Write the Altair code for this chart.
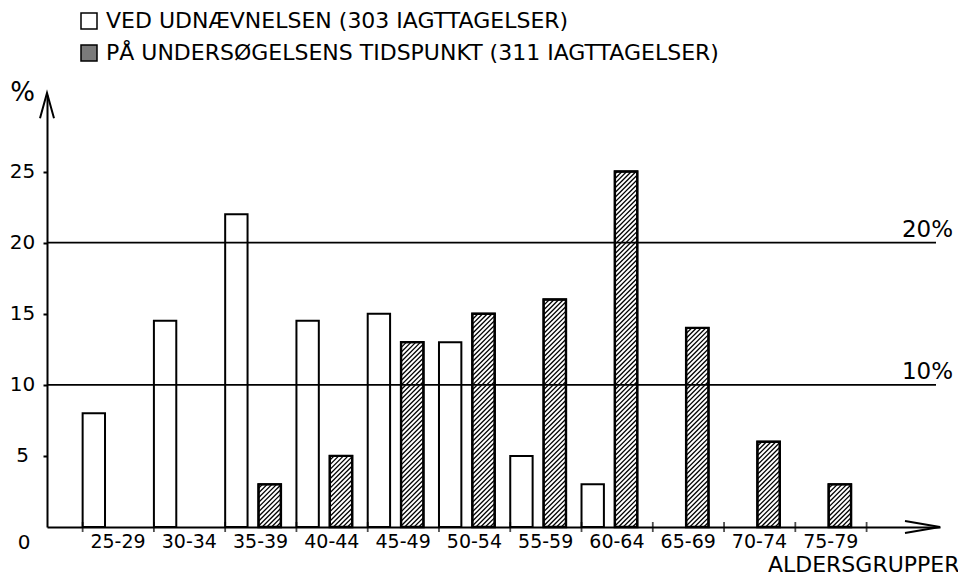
import json
import altair as alt
import pandas as pd

# ---------------- data ----------------
groups = ["25-29", "30-34", "35-39", "40-44", "45-49", "50-54",
          "55-59", "60-64", "65-69", "70-74", "75-79"]
ved = [8, 14.5, 22, 14.5, 15, 13, 5, 3, 0, 0, 0]
paa = [0, 0, 3, 5, 13, 15, 16, 25, 14, 6, 3]
series = ["VED UDNÆVNELSEN (303 IAGTTAGELSER)",
          "PÅ UNDERSØGELSENS TIDSPUNKT (311 IAGTTAGELSER)"]
y_ticks = [5, 10, 15, 20, 25]
ref_values = [10, 20]
ref_labels = ["10%", "20%"]

# ---------------- style ----------------
FONT = "DejaVu Sans"
W_PX, H_PX = 893, 432
X_MIN, X_MAX = -0.5, 12.03
Y_MAX = 30.38
BAR_W = 0.314
OFF_HATCH = 0.468
LABEL_OFF = 0.49
PX_X = W_PX / (X_MAX - X_MIN)
PX_Y = H_PX / Y_MAX
HATCH_H = BAR_W * PX_X / PX_Y      # rise (in % units) of a 45 degree line across a bar
HATCH_S = 0.33                     # vertical spacing of hatch lines (in % units)

rows = []
for i, g in enumerate(groups):
    rows.append({"i": i, "group": g, "s": 0, "series": series[0], "v": ved[i]})
    rows.append({"i": i, "group": g, "s": 1, "series": series[1], "v": paa[i]})
bars_df = pd.DataFrame(rows)

xscale = alt.Scale(domain=[X_MIN, X_MAX], nice=False, zero=False)
yscale = alt.Scale(domain=[0, Y_MAX], nice=False, zero=False)

label_expr = f"{json.dumps(groups)}[round(datum.value - {LABEL_OFF})]"
xaxis = alt.Axis(
    values=[i + LABEL_OFF for i in range(len(groups))],
    labelExpr=label_expr, ticks=False, grid=False,
    labelFont=FONT, labelFontSize=19, labelColor="black", labelPadding=5,
    labelOverlap=False, labelFlush=False,
    domainColor="black", domainWidth=2,
    title="ALDERSGRUPPER", titleFont=FONT, titleFontSize=22,
    titleFontWeight="normal", titleColor="black",
    titleX=912, titleY=44, titleAlign="right", titleBaseline="alphabetic",
)
yaxis = alt.Axis(
    values=y_ticks, grid=False,
    labelFont=FONT, labelFontSize=20, labelColor="black",
    labelAlign="center", labelBaseline="middle", labelPadding=21,
    tickSize=4, tickWidth=2, tickColor="black",
    domainColor="black", domainWidth=2,
    title="%", titleFont=FONT, titleFontSize=26, titleFontWeight="normal",
    titleColor="black", titleAngle=0, titleX=-25, titleY=5,
    titleAlign="center", titleBaseline="alphabetic",
)

base = alt.Chart(bars_df)

bars = base.transform_filter("datum.v > 0").transform_calculate(
    x0=f"datum.i + (datum.s == 1 ? {OFF_HATCH} : 0)",
).transform_calculate(
    x1=f"datum.x0 + {BAR_W}", zero="0"
).mark_rect(fill="white", stroke="black", strokeWidth=2).encode(
    x=alt.X("x0:Q", scale=xscale, axis=xaxis),
    x2="x1:Q",
    y=alt.Y("v:Q", scale=yscale, axis=yaxis),
    y2="zero:Q",
)

hatch = base.transform_filter("datum.s == 1 && datum.v > 0").transform_calculate(
    x0=f"datum.i + {OFF_HATCH}",
    k=f"sequence(0, ceil((datum.v + {HATCH_H}) / {HATCH_S}) + 1)",
).transform_flatten(["k"]).transform_calculate(
    ly0=f"datum.k * {HATCH_S} - {HATCH_H}",
).transform_calculate(
    hy0="max(datum.ly0, 0)",
    hy1=f"min(datum.ly0 + {HATCH_H}, datum.v)",
).transform_filter("datum.hy1 > datum.hy0").transform_calculate(
    hx0=f"datum.x0 + (datum.hy0 - datum.ly0) / {HATCH_H} * {BAR_W}",
    hx1=f"datum.x0 + (datum.hy1 - datum.ly0) / {HATCH_H} * {BAR_W}",
).mark_rule(color="black", strokeWidth=1.3).encode(
    x=alt.X("hx0:Q", scale=xscale, axis=xaxis),
    x2="hx1:Q",
    y=alt.Y("hy0:Q", scale=yscale, axis=yaxis),
    y2="hy1:Q",
)

outline = base.transform_filter("datum.s == 1 && datum.v > 0").transform_calculate(
    x0=f"datum.i + {OFF_HATCH}",
).transform_calculate(
    x1=f"datum.x0 + {BAR_W}", zero="0"
).mark_rect(fill="transparent", stroke="black", strokeWidth=2.4).encode(
    x=alt.X("x0:Q", scale=xscale, axis=xaxis),
    x2="x1:Q",
    y=alt.Y("v:Q", scale=yscale, axis=yaxis),
    y2="zero:Q",
)

ticks_df = pd.DataFrame({"i": list(range(len(groups) + 1)), "zero": 0})
xticks = alt.Chart(ticks_df).mark_tick(
    orient="vertical", size=10, thickness=1.8, color="black"
).encode(
    x=alt.X("i:Q", scale=xscale, axis=xaxis),
    y=alt.Y("zero:Q", scale=yscale, axis=yaxis),
)

ref_df = pd.DataFrame({"v": ref_values, "label": ref_labels})
ref_rules = alt.Chart(ref_df).mark_rule(color="black", strokeWidth=1.8).encode(
    y=alt.Y("v:Q", scale=yscale, axis=yaxis),
    x=alt.value(0), x2=alt.value(889),
)
ref_text = alt.Chart(ref_df).mark_text(
    align="right", baseline="alphabetic", dy=-6, font=FONT, fontSize=23, color="black"
).encode(
    y=alt.Y("v:Q", scale=yscale, axis=yaxis),
    x=alt.value(906), text="label:N",
)

zero_df = pd.DataFrame({"v": [0], "label": ["0"]})
zero_text = alt.Chart(zero_df).mark_text(
    align="center", baseline="middle", dy=16, font=FONT, fontSize=20, color="black"
).encode(
    y=alt.Y("v:Q", scale=yscale, axis=yaxis),
    x=alt.value(-23), text="label:N",
)

arrow_up = alt.Chart(zero_df).mark_point(
    shape="M-1,3.6L0,0L1,3.6", size=196, filled=False, stroke="black",
    strokeWidth=2, opacity=1
).encode(x=alt.value(0), y=alt.value(-2))

arrow_right = alt.Chart(zero_df).mark_point(
    shape="M-5,-0.85L0,0L-5,0.85", size=196, filled=False, stroke="black",
    strokeWidth=2, opacity=1
).encode(x=alt.value(W_PX), y=alt.value(H_PX))

legend_df = pd.DataFrame({"series": series})
legend_layer = alt.Chart(legend_df).mark_square(opacity=0).encode(
    fill=alt.Fill(
        "series:N",
        scale=alt.Scale(domain=series, range=["white", "#7a7a7a"]),
        legend=alt.Legend(
            title=None, orient="none", legendX=31, legendY=-85,
            direction="vertical", symbolType="square", symbolSize=256,
            symbolStrokeColor="black", symbolStrokeWidth=1.5, symbolOpacity=1,
            labelFont=FONT, labelFontSize=22, labelColor="black",
            labelOffset=6, rowPadding=10, padding=0, labelLimit=1000,
        ),
    )
)

chart = alt.layer(
    legend_layer, bars, hatch, outline, xticks, ref_rules, ref_text,
    zero_text, arrow_up, arrow_right,
).properties(
    width=W_PX, height=H_PX,
    padding={"left": 39, "top": 87, "right": 18, "bottom": 49},
    autosize=alt.AutoSizeParams(type="none"),
).configure_view(stroke="transparent")

chart.save("out.html", embed_options={"renderer": "svg", "actions": False})
